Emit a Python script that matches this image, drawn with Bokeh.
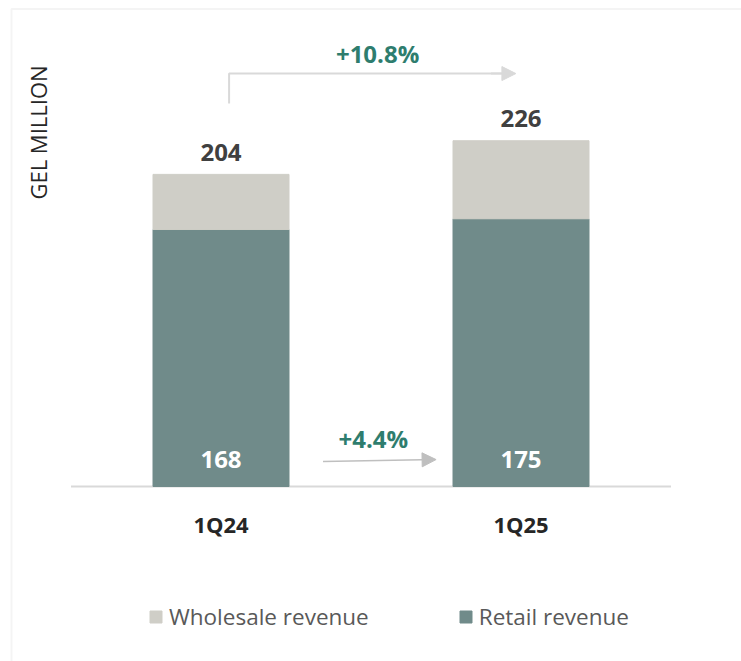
from bokeh.plotting import figure
from bokeh.models import (ColumnDataSource, FactorRange, Range1d, Arrow, NormalHead,
                          Label, Legend, LegendItem, BoxAnnotation)
from bokeh.core.properties import value
from bokeh.embed import file_html
from bokeh.resources import INLINE

# ---- data ----
quarters = ["1Q24", "1Q25"]
retail = [168, 175]
wholesale = [36, 51]
series_names = ["Retail revenue", "Wholesale revenue"]
growth_labels = ["+4.4%", "+10.8%"]   # retail growth, total growth
y_title = "GEL MILLION"

totals = [r + w for r, w in zip(retail, wholesale)]

src = ColumnDataSource(dict(
    quarter=quarters,
    retail=retail,
    wholesale=wholesale,
    total=totals,
    total_lbl=[str(t) for t in totals],
    retail_lbl=[str(r) for r in retail],
    zero=[0] * len(quarters),
))

FONT = "Open Sans"
RETAIL_C = "#708B8A"
WHOLE_C = "#CFCEC7"
GREEN = "#2E7D6E"

W, H = 741, 661
PX_PER_UNIT = 1.53      # vertical pixels per GEL million
BASE_Y = 486            # pixel row of the zero line (from top)

p = figure(width=W, height=H,
           x_range=FactorRange(*quarters, range_padding=0.235, range_padding_units="absolute"),
           y_range=Range1d(-(H - BASE_Y) / PX_PER_UNIT, BASE_Y / PX_PER_UNIT),
           output_backend="svg", toolbar_location=None,
           min_border=0, min_border_left=0, min_border_right=0,
           min_border_top=0, min_border_bottom=0,
           y_axis_location=None, outline_line_color=None)
p.grid.visible = False
p.background_fill_color = "white"
p.border_fill_color = "white"

xa = p.xaxis[0]
xa.fixed_location = 0
xa.axis_line_color = None
xa.major_tick_line_color = None
xa.minor_tick_line_color = None
xa.major_label_text_font = FONT
xa.major_label_text_font_size = "22px"
xa.major_label_text_font_style = "bold"
xa.major_label_text_color = "#262626"
xa.major_label_standoff = 16

# baseline spanning the category band
p.segment(x0=[0], y0=[0], x1=[len(quarters)], y1=[0], line_color="#d9d9d9", line_width=2)

rs = p.vbar_stack(["retail", "wholesale"], x="quarter", width=136 / 300,
                  color=[RETAIL_C, WHOLE_C], source=src)
r_ret, r_wh = rs

# value labels
p.text(x="quarter", y="total", text="total_lbl", source=src, y_offset=-22,
       text_font=value(FONT), text_font_style="bold", text_font_size="24px",
       text_color="#404040", text_align="center", text_baseline="middle")
p.text(x="quarter", y="zero", text="retail_lbl", source=src, y_offset=-27,
       text_font=value(FONT), text_font_style="bold", text_font_size="24px",
       text_color="white", text_align="center", text_baseline="middle")

# total growth arrow (elbow)
TOP_C = "#d9d9d9"
p.line(x=[0.527, 0.527, 1.44], y=[250.3, 269.9, 269.9], line_color=TOP_C, line_width=2)
p.add_layout(Arrow(end=NormalHead(size=14, fill_color=TOP_C, line_color=TOP_C),
                   x_start=1.40, y_start=269.9, x_end=1.483, y_end=269.9,
                   line_color=TOP_C, line_width=2))
p.add_layout(Label(x=1.022, y=282.7, text=growth_labels[1], text_font=FONT,
                   text_font_style="bold", text_font_size="24px", text_color=GREEN,
                   text_align="center", text_baseline="middle"))

# retail growth arrow
BOT_C = "#bfbfbf"
p.add_layout(Arrow(end=NormalHead(size=14, fill_color=BOT_C, line_color=BOT_C),
                   x_start=0.84, y_start=16.3, x_end=1.217, y_end=17.6,
                   line_color=BOT_C, line_width=1.5))
p.add_layout(Label(x=1.008, y=31.4, text=growth_labels[0], text_font=FONT,
                   text_font_style="bold", text_font_size="24px", text_color=GREEN,
                   text_align="center", text_baseline="middle"))

# y title (screen units, origin bottom-left of canvas)
p.add_layout(Label(x=37, y=H - 132, x_units="screen", y_units="screen", text=y_title,
                   angle=90, angle_units="deg", text_font=FONT, text_font_size="22px",
                   text_color="#262626", text_align="center", text_baseline="middle"))

# outer border (left + top visible)
p.add_layout(BoxAnnotation(left=11, right=W + 200, top=H - 8.5, bottom=-200,
                           left_units="screen", right_units="screen",
                           top_units="screen", bottom_units="screen",
                           fill_alpha=0, line_color="#dcdcdc", line_width=2))

legend = Legend(items=[LegendItem(label=series_names[1], renderers=[r_wh]),
                       LegendItem(label=series_names[0], renderers=[r_ret])],
                orientation="horizontal", location=(148, 29),
                glyph_width=15, glyph_height=15, label_standoff=6, spacing=89,
                padding=0, margin=0, border_line_color=None, background_fill_alpha=0,
                label_text_font=FONT, label_text_font_size="22.5px",
                label_text_color="#595959")
p.add_layout(legend)

open("out.html", "w").write(file_html(p, INLINE))
